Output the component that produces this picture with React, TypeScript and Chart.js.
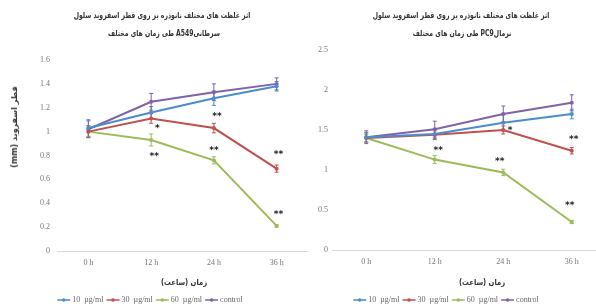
import React, { useEffect, useRef } from "react";
import { Chart, registerables } from "chart.js";

Chart.register(...registerables);

// ---------- data ----------
const categories = ["0 h", "12 h", "24 h", "36 h"];
const seriesLabels = ["10  µg/ml", "30  µg/ml", "60  µg/ml", "control"];
const seriesColors = ["#4a8ccc", "#c0504d", "#9bbb59", "#7f62a8"];

const titleLine1 = "اثر غلظت های مختلف نانوذره بر روی قطر اسفروید سلول";
const a549TitleLine2 = "سرطانیA549 طی زمان های مختلف";
const pc9TitleLine2 = "نرمالPC9 طی زمان های مختلف";
const xAxisTitle = "زمان (ساعت)";
const yAxisTitle = "قطر اسفروید (mm)";

// A549 (left)
const a549Ticks = [0, 0.2, 0.4, 0.6, 0.8, 1, 1.2, 1.4, 1.6];
const a549_10 = [1.03, 1.16, 1.28, 1.38];
const a549_30 = [1.0, 1.11, 1.03, 0.69];
const a549_60 = [1.0, 0.93, 0.76, 0.21];
const a549_control = [1.02, 1.25, 1.33, 1.4];
const a549_err10 = [0.07, 0.05, 0.06, 0.04];
const a549_err30 = [0.05, 0.04, 0.04, 0.03];
const a549_err60 = [0.04, 0.05, 0.03, 0.01];
const a549_errControl = [0.07, 0.07, 0.07, 0.05];
const a549StarX = [1.1, 2.05, 1.05, 2, 3.03, 3.03];
const a549StarY = [1.04, 1.145, 0.805, 0.855, 0.82, 0.325];
const a549StarText = ["*", "**", "**", "**", "**", "**"];

// PC9 (right)
const pc9Ticks = [0, 0.5, 1, 1.5, 2, 2.5];
const pc9_10 = [1.41, 1.45, 1.59, 1.7];
const pc9_30 = [1.4, 1.44, 1.5, 1.24];
const pc9_60 = [1.4, 1.13, 0.97, 0.35];
const pc9_control = [1.41, 1.51, 1.7, 1.84];
const pc9_err10 = [0.06, 0.07, 0.1, 0.06];
const pc9_err30 = [0.05, 0.05, 0.05, 0.04];
const pc9_err60 = [0.05, 0.05, 0.04, 0.02];
const pc9_errControl = [0.08, 0.1, 0.1, 0.1];
const pc9StarX = [2.1, 3.03, 1.05, 1.95, 2.97];
const pc9StarY = [1.52, 1.41, 1.27, 1.13, 0.58];
const pc9StarText = ["*", "**", "**", "**", "**"];

// ---------- plugins ----------
const errorBarPlugin = {
  id: "errorBars",
  beforeDatasetsDraw(chart: any) {
    const ctx = chart.ctx;
    const y = chart.scales.y;
    chart.data.datasets.forEach((ds: any, i: number) => {
      const meta = chart.getDatasetMeta(i);
      ctx.save();
      ctx.strokeStyle = ds.borderColor;
      ctx.lineWidth = 1;
      meta.data.forEach((pt: any, j: number) => {
        const v = ds.data[j];
        const e = ds.errors[j];
        const top = y.getPixelForValue(v + e);
        const bot = y.getPixelForValue(v - e);
        ctx.beginPath();
        ctx.moveTo(pt.x, top);
        ctx.lineTo(pt.x, bot);
        ctx.moveTo(pt.x - 2, top);
        ctx.lineTo(pt.x + 2, top);
        ctx.moveTo(pt.x - 2, bot);
        ctx.lineTo(pt.x + 2, bot);
        ctx.stroke();
      });
      ctx.restore();
    });
  },
};

const starPlugin = {
  id: "stars",
  afterDatasetsDraw(chart: any, _args: any, opts: any) {
    const ctx = chart.ctx;
    const xs = chart.scales.x;
    const ys = chart.scales.y;
    ctx.save();
    ctx.fillStyle = "#222";
    ctx.font = "bold 9px 'DejaVu Sans'";
    ctx.textAlign = "center";
    ctx.textBaseline = "middle";
    (opts.x || []).forEach((xv: number, k: number) => {
      ctx.fillText(opts.text[k], xs.getPixelForValue(xv), ys.getPixelForValue(opts.y[k]) + 2);
    });
    ctx.restore();
  },
};

const legendPlugin = {
  id: "miniLegend",
  afterDraw(chart: any, _args: any, opts: any) {
    const ctx = chart.ctx;
    ctx.save();
    ctx.font = "8px 'Liberation Serif'";
    ctx.textBaseline = "middle";
    const sym = 13;
    const gap = 2;
    const itemGap = 3;
    const widths = chart.data.datasets.map((ds: any) => sym + gap + ctx.measureText(ds.label).width);
    const total = widths.reduce((a: number, b: number) => a + b, 0) + itemGap * (widths.length - 1);
    let x = opts.cx - total / 2;
    const y = opts.y;
    chart.data.datasets.forEach((ds: any, i: number) => {
      ctx.strokeStyle = ds.borderColor;
      ctx.fillStyle = ds.borderColor;
      ctx.lineWidth = 1.5;
      ctx.beginPath();
      ctx.moveTo(x, y);
      ctx.lineTo(x + sym, y);
      ctx.stroke();
      ctx.beginPath();
      ctx.arc(x + sym / 2, y, 1.8, 0, Math.PI * 2);
      ctx.fill();
      ctx.fillStyle = "#666";
      ctx.fillText(ds.label, x + sym + gap, y);
      x += widths[i] + itemGap;
    });
    ctx.restore();
  },
};

function makeDatasets(values: number[][], errs: number[][]) {
  return values.map((vals, i) => ({
    label: seriesLabels[i],
    data: vals,
    errors: errs[i],
    borderColor: seriesColors[i],
    backgroundColor: seriesColors[i],
    borderWidth: 2,
    pointRadius: 2,
    pointBorderWidth: 0,
    pointBackgroundColor: seriesColors[i],
    tension: 0,
  }));
}

type PanelProps = {
  width: number;
  height: number;
  values: number[][];
  errs: number[][];
  ticks: number[];
  yWidth: number;
  tickPad: number;
  padding: { left: number; right: number; top: number; bottom: number };
  stars: { x: number[]; y: number[]; text: string[] };
  legend: { cx: number; y: number };
};

function Panel(p: PanelProps) {
  const ref = useRef<HTMLCanvasElement | null>(null);
  useEffect(() => {
    if (!ref.current) return;
    const chart = new Chart(ref.current, {
      type: "line",
      data: { labels: categories, datasets: makeDatasets(p.values, p.errs) as any },
      options: {
        animation: false,
        responsive: false,
        maintainAspectRatio: false,
        layout: { padding: p.padding },
        plugins: {
          legend: { display: false },
          title: { display: false },
          tooltip: { enabled: false },
          stars: p.stars,
          miniLegend: p.legend,
        } as any,
        scales: {
          x: {
            offset: true,
            grid: { display: false, drawTicks: false },
            border: { display: true, color: "#d9d9d9", width: 1 },
            ticks: { color: "#777", font: { family: "'Liberation Serif'", size: 8 }, padding: 7, maxRotation: 0 },
            afterFit(s: any) {
              s.height = 20;
            },
          },
          y: {
            min: p.ticks[0],
            max: p.ticks[p.ticks.length - 1],
            grid: { display: false, drawTicks: false },
            border: { display: false },
            afterBuildTicks(s: any) {
              s.ticks = p.ticks.map((v) => ({ value: v }));
            },
            ticks: {
              color: "#777",
              font: { family: "'Liberation Serif'", size: 8 },
              padding: p.tickPad,
              callback: (v: any) => String(+Number(v).toFixed(1)),
            },
            afterFit(s: any) {
              s.width = p.yWidth;
            },
          },
        },
      },
      plugins: [errorBarPlugin, starPlugin, legendPlugin],
    });
    return () => chart.destroy();
  }, []);
  return <canvas ref={ref} width={p.width} height={p.height} style={{ width: p.width, height: p.height, display: "block" }} />;
}

const arabicFont = "'DejaVu Sans', 'Noto Sans', sans-serif";

function Txt(props: { x: number; y: number; size: number; text: string; sx?: number; rotate?: boolean }) {
  const sx = props.sx ?? 1;
  return (
    <div
      dir="rtl"
      style={{
        position: "absolute",
        left: props.x,
        top: props.y,
        transform: `translate(-50%, -50%)${props.rotate ? " rotate(-90deg)" : ""} scaleX(${sx})`,
        whiteSpace: "nowrap",
        fontFamily: arabicFont,
        fontWeight: "bold",
        fontSize: props.size,
        color: "#333",
        lineHeight: 1,
      }}
    >
      {props.text}
    </div>
  );
}

export default function App() {
  return (
    <div
      style={{
        position: "fixed",
        left: 0,
        top: 0,
        width: 596,
        height: 307,
        overflow: "hidden",
        background: "#fff",
      }}
    >
      <div style={{ position: "absolute", left: 0, top: 0 }}>
        <Panel
          width={312}
          height={307}
          values={[a549_10, a549_30, a549_60, a549_control]}
          errs={[a549_err10, a549_err30, a549_err60, a549_errControl]}
          ticks={a549Ticks}
          yWidth={57}
          tickPad={7}
          padding={{ left: 0, right: 2, top: 60, bottom: 36 }}
          stars={{ x: a549StarX, y: a549StarY, text: a549StarText }}
          legend={{ cx: 150, y: 300 }}
        />
      </div>
      <div style={{ position: "absolute", left: 312, top: 0 }}>
        <Panel
          width={298}
          height={307}
          values={[pc9_10, pc9_30, pc9_60, pc9_control]}
          errs={[pc9_err10, pc9_err30, pc9_err60, pc9_errControl]}
          ticks={pc9Ticks}
          yWidth={20}
          tickPad={4}
          padding={{ left: 0, right: 0, top: 50, bottom: 37 }}
          stars={{ x: pc9StarX, y: pc9StarY, text: pc9StarText }}
          legend={{ cx: 134, y: 300 }}
        />
      </div>
      <Txt x={162} y={15} size={8.5} sx={0.72} text={titleLine1} />
      <Txt x={164} y={33} size={8.5} sx={0.72} text={a549TitleLine2} />
      <Txt x={461} y={15} size={8.5} sx={0.72} text={titleLine1} />
      <Txt x={462} y={33} size={8.5} sx={0.72} text={pc9TitleLine2} />
      <Txt x={184} y={283} size={8} sx={0.85} text={xAxisTitle} />
      <Txt x={482} y={283} size={8} sx={0.85} text={xAxisTitle} />
      <Txt x={15} y={127} size={8} text={yAxisTitle} rotate />
    </div>
  );
}
